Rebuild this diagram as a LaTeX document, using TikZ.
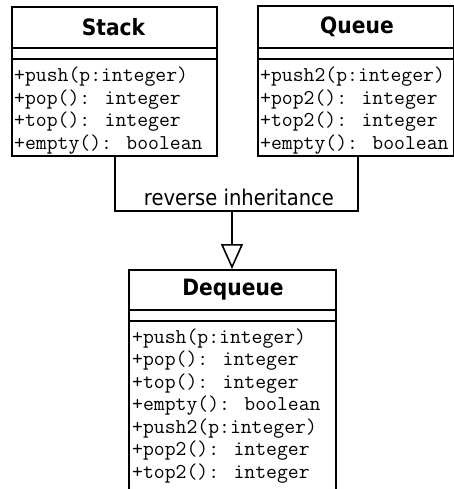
\documentclass[tikz,border=0pt]{standalone}
\usepackage{fontspec}
\usetikzlibrary{arrows.meta}
\newfontfamily\titlefont{DejaVu Sans}[FakeStretch=0.9]
\newfontfamily\labelfont{DejaVu Sans}[FakeStretch=0.9]

\tikzset{
  classbox/.style={draw, line width=2pt, rectangle, inner sep=0pt, anchor=north west},
  classtitle/.style={font=\titlefont\bfseries\fontsize{22.5}{26}\selectfont, inner sep=0pt},
  member/.style={font=\ttfamily\fontsize{21.1}{24}\selectfont, anchor=base west, inner sep=0pt},
  divider/.style={line width=2pt},
  conn/.style={line width=2pt},
  inherit/.style={line width=2pt, -{Triangle[open, length=25pt, width=22pt, line width=1.6pt]}},
  connlabel/.style={font=\labelfont\fontsize{21.7}{25}\selectfont, inner sep=0pt},
}

\begin{document}
\begin{tikzpicture}[x=1pt, y=-1pt]
  \clip (0,0) rectangle (454,489);
  \fill[white] (0,0) rectangle (454,489);

  % Stack class
  \node[classbox, minimum width=205pt, minimum height=149pt] (stack) at (11,6) {};
  \node[classtitle] (stackname) at (113.5,27) {Stack};
  \draw[divider] (11,48) -- (216,48);
  \draw[divider] (11,59) -- (216,59);
  \foreach \txt [count=\i] in {+push(p:integer), +pop(): integer, +top(): integer, +empty(): boolean}
    \node[member] (stackop\i) at (14, 82+22.5*\i-22.5) {\txt};

  % Queue class
  \node[classbox, minimum width=196pt, minimum height=150pt] (queue) at (257,5) {};
  \node[classtitle] (queuename) at (357,27) {Queue};
  \draw[divider] (257,48) -- (453,48);
  \draw[divider] (257,59) -- (453,59);
  \foreach \txt [count=\i] in {+push2(p:integer), +pop2(): integer, +top2(): integer, +empty(): boolean}
    \node[member] (queueop\i) at (260, 82+22.5*\i-22.5) {\txt};

  % Dequeue class
  \node[classbox, minimum width=207pt, minimum height=222pt] (dequeue) at (128,269) {};
  \node[classtitle] (dequeuename) at (233,289.5) {Dequeue};
  \draw[divider] (128,310) -- (335,310);
  \draw[divider] (128,321) -- (335,321);
  \foreach \txt [count=\i] in {+push(p:integer), +pop(): integer, +top(): integer, +empty(): boolean,
                               +push2(p:integer), +pop2(): integer, +top2(): integer}
    \node[member] (dequeueop\i) at (132, 343+22.5*\i-22.5) {\txt};

  % reverse inheritance connector
  \coordinate (qjoin) at (358,211);
  \coordinate (fork) at (232,211);
  \draw[conn] (stack.south) |- (qjoin) -- (queue.south -| qjoin);
  \draw[inherit] (fork) -- (dequeue.north -| fork);
  \node[connlabel] (revlabel) at (239,197) {reverse inheritance};
\end{tikzpicture}
\end{document}
